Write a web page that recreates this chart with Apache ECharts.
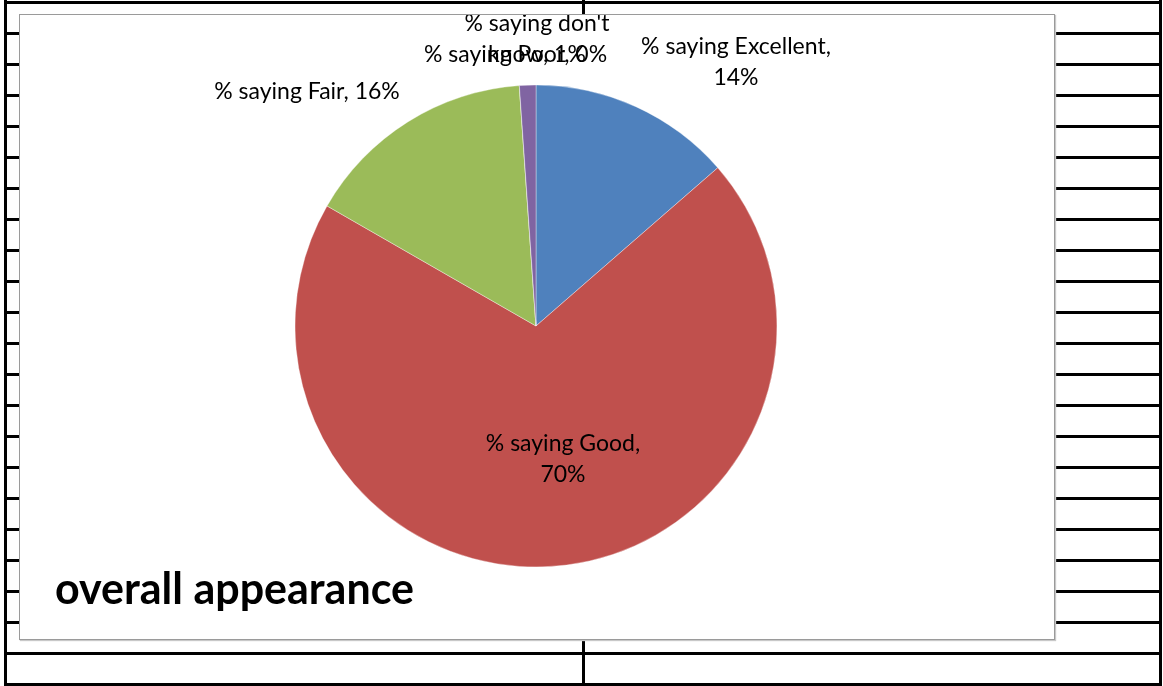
<!DOCTYPE html>
<html>
<head>
<meta charset="utf-8">
<script src="https://cdn.jsdelivr.net/npm/echarts@6/dist/echarts.min.js"></script>
<style>
  html, body { margin: 0; padding: 0; background: #fff; }
  #sheet { position: relative; width: 1163px; height: 686px; overflow: hidden; background: #fff; }
  .ln { position: absolute; background: #000; }
  #chart { position: absolute; left: 19px; top: 14px; width: 1036px; height: 626px;
           box-sizing: border-box; border: 1px solid #9a9a9a; background: #fff;
           box-shadow: 1px 1px 1px #c8c8c8; }
</style>
</head>
<body>
<div id="sheet">
  <div id="chart"></div>
</div>
<script>
// ---- data ----
const categories = ['% saying Excellent', '% saying Good', '% saying Fair', '% saying Poor', "% saying don't know"];
const values = [13.6, 69.7, 15.6, 0, 1.1];
const chartTitle = 'overall appearance';

// ---- styling ----
const colors = ['#4F81BD', '#C0504D', '#9BBB59', '#4BACC6', '#8064A2'];
// label break style: 1 = break after comma, 0 = single line, 2 = break before last word
const labelBreak = [1, 1, 0, 0, 2];
const pieCenter = [516, 311];
const pieRadius = 241;
// label anchor offsets relative to pie center, with alignment
const labelPlace = [
  { dx: 200, dy: -264, align: 'center' },
  { dx: 27, dy: 133, align: 'center' },
  { dx: -229, dy: -234, align: 'center' },
  { dx: -112, dy: -271, align: 'left' },
  { dx: 1, dy: -287, align: 'center' }
];

// ---- spreadsheet grid background ----
const sheet = document.getElementById('sheet');
function addLine(x, y, w, h) {
  const d = document.createElement('div');
  d.className = 'ln';
  d.style.left = x + 'px'; d.style.top = y + 'px';
  d.style.width = w + 'px'; d.style.height = h + 'px';
  sheet.insertBefore(d, sheet.firstChild);
}
addLine(4, 1, 1158, 3);      // top
addLine(4, 0, 3, 686);       // left
addLine(1159, 0, 3, 686);    // right
addLine(582, 0, 3, 16);      // middle top
addLine(582, 640, 3, 46);    // middle bottom
for (let k = 0; k < 20; k++) {
  const y = 32 + k * 31;
  addLine(5, y, 15, 3);
  addLine(1054, y, 106, 3);
}
addLine(4, 652, 1158, 3);
addLine(4, 683, 1158, 3);

// ---- chart ----
const chart = echarts.init(document.getElementById('chart'), null, { renderer: 'canvas' });
const data = categories.map((name, i) => ({
  name: name,
  value: values[i],
  itemStyle: { color: colors[i] },
  label: { position: i === 1 ? 'inside' : 'outside' }
}));

chart.setOption({
  animation: false,
  title: {
    text: chartTitle,
    left: 30,
    top: 549,
    textStyle: { fontFamily: 'Lato', fontWeight: 'bold', fontSize: 43, color: '#000' }
  },
  series: [{
    type: 'pie',
    center: pieCenter,
    radius: pieRadius,
    startAngle: 90,
    clockwise: true,
    avoidLabelOverlap: false,
    percentPrecision: 0,
    itemStyle: { borderColor: 'rgba(255,255,255,0.6)', borderWidth: 0.6 },
    labelLine: { show: false },
    label: {
      fontFamily: 'Lato',
      fontSize: 23,
      color: '#000',
      lineHeight: 31,
      align: 'center',
      formatter: function (p) {
        const pct = Math.round(p.value) + '%';
        const b = labelBreak[p.dataIndex];
        if (b === 1) return p.name + ',\n' + pct;
        if (b === 2) {
          const idx = p.name.lastIndexOf(' ');
          return p.name.slice(0, idx) + '\n' + p.name.slice(idx + 1) + ', ' + pct;
        }
        return p.name + ', ' + pct;
      }
    },
    labelLayout: function (params) {
      const pl = labelPlace[params.dataIndex];
      return {
        x: pieCenter[0] + pl.dx,
        y: pieCenter[1] + pl.dy,
        align: pl.align,
        verticalAlign: 'middle'
      };
    },
    data: data
  }]
});
</script>
</body>
</html>
